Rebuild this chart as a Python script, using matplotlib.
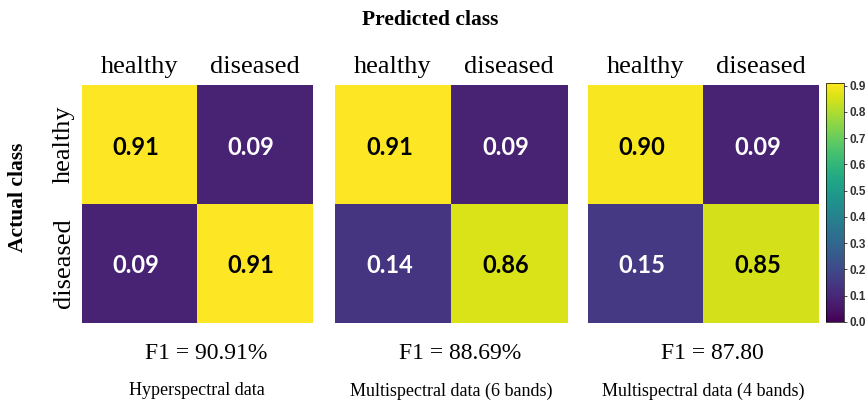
import numpy as np
import matplotlib
matplotlib.use("Agg")
import matplotlib.pyplot as plt
from matplotlib import cm, colors

classes = ["healthy", "diseased"]
cm_hyper = [[0.91, 0.09], [0.09, 0.91]]
cm_multi6 = [[0.91, 0.09], [0.14, 0.86]]
cm_multi4 = [[0.90, 0.09], [0.15, 0.85]]
f1_labels = ["F1 = 90.91%", "F1 = 88.69%", "F1 = 87.80"]
titles = ["Hyperspectral data", "Multispectral data (6 bands)", "Multispectral data (4 bands)"]
cbar_ticks = [0.0, 0.1, 0.2, 0.3, 0.4, 0.5, 0.6, 0.7, 0.8, 0.9]

mats = [cm_hyper, cm_multi6, cm_multi4]

fig = plt.figure(figsize=(8.65, 4.03), dpi=100)
serif = "Liberation Serif"
vmin, vmax = 0.0, 0.91
norm = colors.Normalize(vmin=vmin, vmax=vmax)
cmap = plt.get_cmap("viridis")

lefts = [0.0948, 0.387, 0.680]
widths = [0.266, 0.269, 0.266]
bottom, height = 0.1985, 0.590

for i, (m, l, w) in enumerate(zip(mats, lefts, widths)):
    ax = fig.add_axes([l, bottom, w, height])
    arr = np.array(m)
    ax.imshow(arr, cmap=cmap, norm=norm, aspect="auto")
    for r in range(2):
        for c in range(2):
            v = arr[r, c]
            col = "black" if v > 0.5 else "white"
            ax.text(c - 0.03, r + 0.02, f"{v:.2f}", ha="center", va="center", fontsize=17,
                    fontweight="bold", color=col, family="Lato")
    ax.xaxis.tick_top()
    ax.set_xticks([0, 1])
    ax.set_xticklabels(classes, fontsize=19, family=serif)
    ax.tick_params(length=0, pad=5)
    if i == 0:
        ax.set_yticks([0, 1])
        ax.set_yticklabels(classes, fontsize=19, family=serif, rotation=90, va="center")
    else:
        ax.set_yticks([])
    for s in ax.spines.values():
        s.set_visible(False)
    cx = l + w / 2
    fig.text(cx + 0.01, 0.124, f1_labels[i], ha="center", va="center", fontsize=17, family=serif)
    fig.text(cx, 0.030, titles[i], ha="center", va="center", fontsize=13, family=serif)

cax = fig.add_axes([0.955, 0.201, 0.021, 0.593])
cb = fig.colorbar(cm.ScalarMappable(norm=norm, cmap=cmap), cax=cax, ticks=cbar_ticks)
cb.ax.set_yticklabels([f"{t:.1f}" for t in cbar_ticks], fontsize=8.5, family="Liberation Sans",
                      fontweight="bold", color="#333333")
cb.ax.tick_params(length=2, width=0.5, pad=2)
cb.outline.set_linewidth(0.5)

fig.text(0.497, 0.95, "Predicted class", ha="center", va="center", fontsize=15.5,
         fontweight="bold", family=serif)
fig.text(0.021, 0.51, "Actual class", ha="center", va="center", fontsize=15.5,
         fontweight="bold", family=serif, rotation=90)

fig.savefig("out.png", dpi=100)
